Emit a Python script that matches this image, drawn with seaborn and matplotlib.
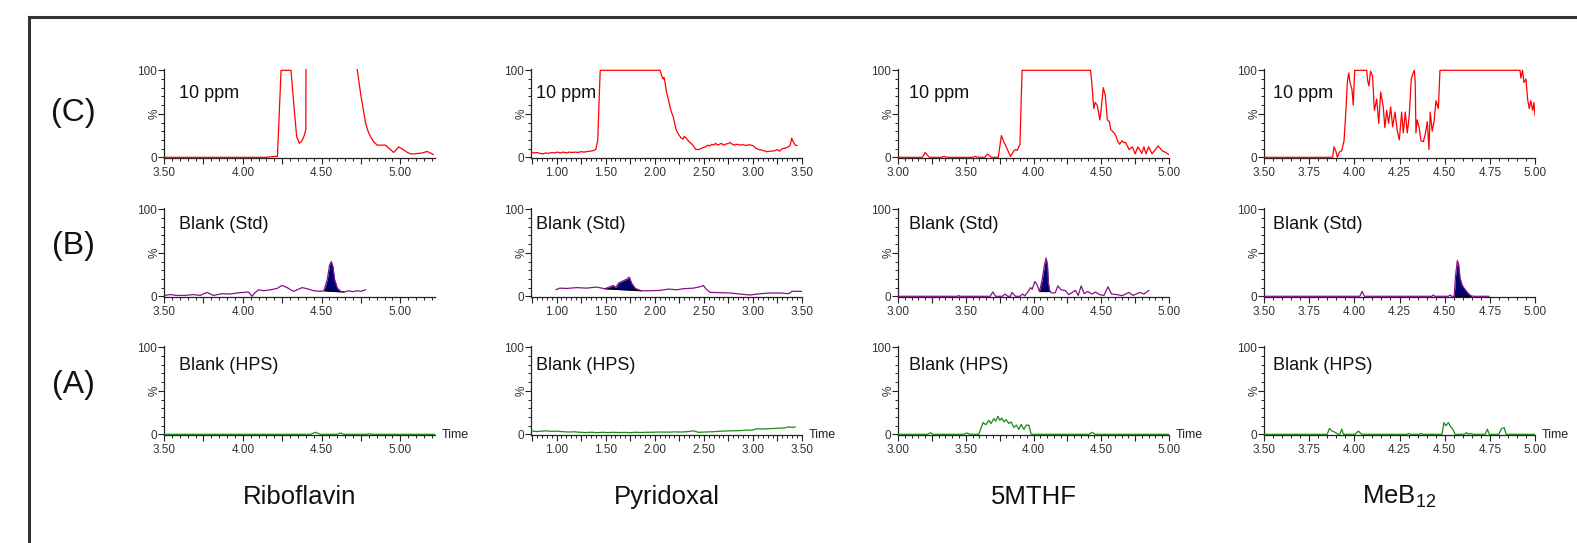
import numpy as np
import pandas as pd
import matplotlib
matplotlib.use("Agg")
import matplotlib.pyplot as plt
import seaborn as sns
from matplotlib.lines import Line2D
from matplotlib.ticker import MultipleLocator, FixedLocator, FuncFormatter

# ---------------- data ----------------
compounds = ["Riboflavin", "Pyridoxal", "5MTHF", "MeB$_{12}$"]
row_labels = ["(C)", "(B)", "(A)"]
row_texts = ["10 ppm", "Blank (Std)", "Blank (HPS)"]
x_limits = [(3.50, 5.22), (0.74, 3.50), (3.00, 5.00), (3.50, 5.00)]
label_steps = [0.5, 0.5, 0.5, 0.25]

# Row C : 10 ppm (red)
c1_t = [3.50, 4.15, 4.20, 4.22, 4.243, 4.306, 4.327, 4.342, 4.359, 4.376, 4.39, 4.40, 4.402,
        4.55, 4.70, 4.727, 4.748, 4.765, 4.78, 4.795, 4.81, 4.83, 4.853, 4.88, 4.906, 4.93,
        4.958, 4.975, 4.99, 5.02, 5.05, 5.074, 5.116, 5.14, 5.17, 5.19, 5.21]
c1_y = [0, 0, 1, 1, 100, 100, 54, 24, 16, 19, 25, 32, 140,
        140, 140, 100, 73, 55, 39, 30, 24, 18, 14, 14, 14, 10,
        5.6, 9, 12, 8.6, 5, 3.7, 4.5, 5, 6.7, 5, 3]

c2_t = [0.745, 0.77, 0.80, 0.83, 0.86, 0.89, 0.92, 0.95, 0.98, 1.01, 1.04, 1.07, 1.10, 1.13,
        1.16, 1.19, 1.22, 1.25, 1.28, 1.31, 1.34, 1.37, 1.40, 1.42, 1.435, 1.445, 2.055,
        2.07, 2.085, 2.095, 2.105, 2.12, 2.14, 2.155, 2.17, 2.19, 2.205, 2.22, 2.245, 2.27,
        2.29, 2.30, 2.32, 2.35, 2.38, 2.40, 2.42, 2.45, 2.47, 2.49, 2.52, 2.54, 2.56, 2.58,
        2.60, 2.62, 2.64, 2.66, 2.68, 2.70, 2.72, 2.75, 2.77, 2.79, 2.81, 2.84, 2.87, 2.90,
        2.93, 2.96, 3.00, 3.03, 3.06, 3.10, 3.14, 3.18, 3.22, 3.25, 3.27, 3.30, 3.33, 3.36,
        3.38, 3.395, 3.41, 3.43, 3.45]
c2_y = [6, 5, 5.5, 4.5, 4, 5, 4.5, 5.5, 5, 6, 5, 6, 5, 6,
        5.5, 6, 5.5, 6.5, 6, 6.5, 7, 7.5, 9, 20, 70, 100, 100,
        94, 90, 92, 86, 75, 66, 58, 52, 46, 38, 31, 26, 22,
        21, 24, 22, 18, 15, 12, 9, 9, 10, 11, 12, 14, 13, 15,
        14, 16, 14, 15, 16, 14, 15, 16, 17, 15, 14, 15, 14, 14.5,
        13.5, 14.5, 13.5, 10.5, 9, 8, 6.5, 7, 7.5, 9, 7, 10, 10.5, 12,
        14, 22, 18, 14, 13.5]

c3_t = [3.00, 3.18, 3.20, 3.23, 3.32, 3.34, 3.36, 3.55, 3.57, 3.59, 3.64, 3.66, 3.69, 3.74,
        3.763, 3.78, 3.79, 3.81, 3.83, 3.855, 3.87, 3.88, 3.90, 3.91, 3.916, 4.421, 4.43,
        4.445, 4.455, 4.47, 4.49, 4.50, 4.515, 4.53, 4.545, 4.56, 4.57, 4.595, 4.61, 4.62,
        4.635, 4.655, 4.665, 4.68, 4.705, 4.73, 4.75, 4.77, 4.80, 4.815, 4.83, 4.85, 4.875,
        4.90, 4.92, 4.95, 4.975, 5.00]
c3_y = [0, 0, 5.6, 0, 0, 1, 0, 0, 1, 0, 0, 3.7, 0, 0,
        25, 18, 15, 8, 1, 7.5, 9, 8, 15, 70, 100, 100, 86,
        56, 63, 60, 43, 56, 80, 71, 43, 41, 32, 28, 24, 19,
        15, 19, 17, 17, 9, 12, 4, 12, 4.5, 12, 4, 12, 4,
        9, 13, 7.5, 5.6, 3]

c4_t = [3.50, 3.880, 3.887, 3.898, 3.906, 3.917, 3.930, 3.943, 3.954, 3.961, 3.969, 3.976,
        3.987, 3.994, 4.002, 4.068, 4.074, 4.081, 4.090, 4.101, 4.111, 4.124, 4.135, 4.146,
        4.160, 4.169, 4.179, 4.190, 4.201, 4.212, 4.225, 4.238, 4.249, 4.262, 4.271, 4.282,
        4.293, 4.304, 4.315, 4.326, 4.332, 4.337, 4.341, 4.348, 4.359, 4.369, 4.382, 4.394,
        4.404, 4.413, 4.420, 4.431, 4.441, 4.452, 4.465, 4.474, 4.917, 4.922, 4.931, 4.939,
        4.950, 4.959, 4.968, 4.977, 4.987, 4.994, 5.00]
c4_y = [0, 0, 12, 7, 0, 6, 7.5, 19, 56, 86, 97, 86,
        78, 60, 100, 100, 88, 82, 99, 93, 54, 67, 39, 75,
        58, 34, 54, 39, 58, 35, 52, 30, 20, 52, 28, 52,
        28, 48, 90, 97, 100, 86, 28, 43, 34, 19, 18, 28,
        41, 9, 52, 30, 41, 65, 56, 100, 100, 91, 100, 86,
        90, 67, 56, 65, 54, 63, 48]

# Row B : Blank (Std) (purple)
b1_t = [3.506, 3.538, 3.581, 3.634, 3.687, 3.729, 3.772, 3.814, 3.867, 3.920, 3.962, 4.005,
        4.037, 4.058, 4.079, 4.101, 4.132, 4.175, 4.217, 4.249, 4.281, 4.323, 4.345, 4.377,
        4.408, 4.451, 4.493, 4.515, 4.536, 4.551, 4.562, 4.572, 4.583, 4.600, 4.621, 4.642,
        4.674, 4.695, 4.727, 4.748, 4.780]
b1_y = [1, 2, 1, 1, 2, 1, 4.5, 1, 3, 2.6, 3.8, 4.5,
        5, 0, 4.5, 7.5, 6.4, 7.5, 9, 12.5, 10, 5.7, 7.5, 10,
        8.7, 6.4, 5.7, 6.4, 19, 36, 40, 34, 19, 9.4, 5.7, 5,
        6.4, 5.3, 6.4, 5.7, 7.5]

b2_t = [0.993, 1.034, 1.102, 1.204, 1.306, 1.408, 1.476, 1.493, 1.544, 1.578, 1.605, 1.629,
        1.663, 1.714, 1.741, 1.765, 1.799, 1.833, 1.867, 1.952, 2.054, 2.139, 2.224, 2.292,
        2.394, 2.462, 2.496, 2.523, 2.564, 2.666, 2.768, 2.870, 2.972, 3.075, 3.177, 3.279,
        3.364, 3.398, 3.500]
b2_y = [7.5, 9.4, 9, 10, 9.4, 10.6, 9, 8.7, 11, 12.5, 10, 15,
        17, 19.6, 22, 15, 9.4, 7.5, 6.4, 6.4, 6.8, 8.3, 7.5, 8.7,
        9.4, 11, 12.5, 8.3, 4.5, 4.2, 3.8, 2.6, 1.5, 3, 3.8, 3.8,
        3, 5.7, 5.7]

b3_t = [3.00, 3.44, 3.448, 3.455, 3.68, 3.70, 3.72, 3.77, 3.79, 3.81, 3.83, 3.84, 3.867,
        3.90, 3.92, 3.935, 3.953, 3.978, 3.99, 4.01, 4.027, 4.044, 4.064, 4.081, 4.093,
        4.103, 4.11, 4.12, 4.136, 4.16, 4.18, 4.204, 4.236, 4.26, 4.286, 4.31, 4.33, 4.352,
        4.374, 4.40, 4.43, 4.458, 4.488, 4.52, 4.55, 4.576, 4.618, 4.655, 4.705, 4.734,
        4.786, 4.815, 4.852]
b3_y = [0, 0, 1, 0, 0, 5, 0, 0, 2.6, 0, 0, 4.5, 0,
        0, 2.6, 0.5, 3.8, 10, 8, 17, 13, 5.6, 19, 36, 44,
        36, 15, 5.6, 3.8, 4, 12, 7.5, 6.4, 1.9, 4.5, 6.8, 1, 12,
        3, 5.6, 2.6, 4.9, 1.9, 1, 11, 2.6, 1.9, 0.75, 4.5, 1,
        4.5, 2.6, 6.8]

b4_t = [3.50, 4.03, 4.043, 4.056, 4.43, 4.437, 4.445, 4.52, 4.53, 4.54, 4.553, 4.56, 4.570,
        4.577, 4.585, 4.596, 4.607, 4.621, 4.632, 4.644, 4.66, 4.747]
b4_y = [0, 0, 5.7, 0, 0, 1.5, 0, 0, 1.5, 0, 0, 23, 41,
        37, 21, 13, 9.4, 5.7, 3, 0.75, 0, 0]

# integrated peak windows (start, end, baseline start, baseline end)
peak_windows = [(4.515, 4.642, 6.4, 5.0), (1.493, 1.867, 8.7, 6.4),
                (4.044, 4.120, 5.6, 5.6), (4.553, 4.644, 0.0, 0.0)]

# Row A : Blank (HPS) (green)
a1_t = [3.50, 4.43, 4.462, 4.49, 4.60, 4.621, 4.64, 4.78, 4.80, 4.82, 5.22]
a1_y = [0, 0, 2.3, 0, 0, 1.5, 0, 0, 0.6, 0, 0]

a2_t = [0.744, 0.80, 0.85, 0.898, 0.95, 1.00, 1.068, 1.12, 1.18, 1.238, 1.30, 1.35, 1.408,
        1.47, 1.52, 1.578, 1.64, 1.70, 1.748, 1.80, 1.86, 1.918, 1.98, 2.04, 2.088, 2.15,
        2.20, 2.258, 2.33, 2.394, 2.445, 2.50, 2.55, 2.598, 2.66, 2.72, 2.768, 2.82, 2.88,
        2.938, 2.99, 3.04, 3.10, 3.143, 3.20, 3.25, 3.279, 3.33, 3.364, 3.40, 3.432]
a2_y = [3.8, 3.2, 3.6, 4, 3.3, 3.6, 3, 2.6, 2.9, 2.3, 2.0, 2.4, 1.9,
        2.3, 2.0, 2.3, 2.0, 2.2, 1.9, 2.3, 2.1, 2.3, 2.4, 2.6, 2.6, 2.5,
        2.8, 2.6, 3.0, 4, 2.3, 2.6, 2.8, 3, 3.5, 3.8, 4, 4.1, 4.3,
        4.9, 4.6, 6.4, 6.0, 6.4, 6.6, 7.0, 7.1, 7.5, 8.6, 7.9, 8.6]

a3_t = [3.00, 3.22, 3.239, 3.26, 3.49, 3.51, 3.53, 3.596, 3.628, 3.648, 3.67, 3.687, 3.707,
        3.722, 3.737, 3.752, 3.766, 3.781, 3.798, 3.818, 3.835, 3.855, 3.874, 3.892, 3.909,
        3.929, 3.946, 3.966, 3.983, 4.41, 4.434, 4.455, 5.00]
a3_y = [0, 0, 1.9, 0, 0, 1.5, 0, 0, 13.5, 11, 16, 12.4, 18,
        15, 20.7, 16, 18.8, 14.3, 17, 12.4, 14.3, 7.9, 10.5, 5.6, 11.3,
        5.6, 10.5, 10.5, 0, 0, 2.3, 0, 0]

a4_t = [3.50, 3.85, 3.862, 3.875, 3.893, 3.91, 3.92, 3.93, 3.94, 4.005, 4.022, 4.04, 4.29,
        4.30, 4.31, 4.36, 4.37, 4.38, 4.485, 4.496, 4.507, 4.52, 4.533, 4.548, 4.557, 4.61,
        4.621, 4.632, 4.644, 4.655, 4.725, 4.736, 4.747, 4.80, 4.815, 4.83, 4.84, 5.00]
a4_y = [0, 0, 6.8, 4, 2.3, 0, 0, 6, 0, 0, 3.8, 0, 0,
        1, 0, 0, 1, 0, 0, 13.5, 9.8, 13.5, 8.6, 4.9, 0, 0,
        1.9, 0, 1, 0, 0, 6, 0, 0, 6.8, 7.5, 0, 0]

rows = [
    [(c1_t, c1_y), (c2_t, c2_y), (c3_t, c3_y), (c4_t, c4_y)],
    [(b1_t, b1_y), (b2_t, b2_y), (b3_t, b3_y), (b4_t, b4_y)],
    [(a1_t, a1_y), (a2_t, a2_y), (a3_t, a3_y), (a4_t, a4_y)],
]
row_colors = ["#ff0000", "#86128a", "#1a8c1a"]
fill_color = "#00006e"

# ---------------- style ----------------
sns.set_theme(style="ticks")
plt.rcParams["font.family"] = ["Liberation Sans", "DejaVu Sans"]
plt.rcParams["mathtext.default"] = "regular"

W, H = 1577, 543
fig = plt.figure(figsize=(W / 100, H / 100), dpi=100)
fig.patch.set_facecolor("white")

col_left = [164, 531, 898, 1264]
ax_w = 271
row_top = [69, 208, 346]
ax_h = 89
text_dx = [15, 5.5, 11.5, 9]          # pixel offset of in-panel caption
text_y = [0.73, 0.82, 0.78]


def make_fmt(step):
    def f(v, pos):
        k = v / step
        if abs(k - round(k)) < 1e-6:
            return f"{v:.2f}"
        return ""
    return f


def yfmt(v, pos):
    if abs(v - 100) < 1e-6:
        return "100"
    if abs(v) < 1e-6:
        return "0"
    return ""


for r in range(3):
    for c in range(4):
        ax = fig.add_axes([col_left[c] / W, 1 - (row_top[r] + ax_h) / H, ax_w / W, ax_h / H])
        ax.set_facecolor("none")
        t, y = rows[r][c]
        df = pd.DataFrame({"t": t, "y": y})
        sns.lineplot(data=df, x="t", y="y", ax=ax, color=row_colors[r], linewidth=0.9,
                     estimator=None, sort=False, zorder=3)
        if r == 1:
            s, e, b0, b1 = peak_windows[c]
            ta = np.asarray(t)
            ya = np.asarray(y, dtype=float)
            m = (ta >= s - 1e-9) & (ta <= e + 1e-9)
            base = b0 + (b1 - b0) * (ta[m] - s) / (e - s)
            ax.fill_between(ta[m], ya[m], base, color=fill_color, linewidth=0, zorder=2.8)
            ax.plot([s, e], [b0, b1], color="black", linewidth=0.9, zorder=2.9)

        ax.set_xlim(*x_limits[c])
        ax.set_ylim(-0.8, 101.5)
        ax.set_xlabel("")
        ax.set_ylabel("")
        for sp in ["top", "right"]:
            ax.spines[sp].set_visible(False)
        for sp in ["left", "bottom"]:
            ax.spines[sp].set_color("#222222")
            ax.spines[sp].set_linewidth(0.9)

        ax.xaxis.set_major_locator(MultipleLocator(0.25))
        ax.xaxis.set_minor_locator(MultipleLocator(0.05))
        ax.xaxis.set_major_formatter(FuncFormatter(make_fmt(label_steps[c])))
        ax.yaxis.set_major_locator(FixedLocator([0, 50, 100]))
        ax.yaxis.set_minor_locator(MultipleLocator(10))
        ax.yaxis.set_major_formatter(FuncFormatter(yfmt))
        ax.tick_params(which="major", direction="out", length=4.0, width=0.8,
                       color="#222222", labelsize=8.5, labelcolor="#333333", pad=1.2)
        ax.tick_params(axis="x", which="major", pad=2.6)
        ax.tick_params(which="minor", direction="out", length=2.0, width=0.7, color="#222222")
        ax.text(-0.035, 0.5, "%", rotation=90, transform=ax.transAxes, ha="center",
                va="center", fontsize=8.5, color="#333333")
        ax.annotate(row_texts[r], xy=(0, text_y[r]), xycoords="axes fraction",
                    xytext=(text_dx[c] * 0.72, 0), textcoords="offset points",
                    ha="left", va="center", fontsize=13, color="#111111")
        if r == 2:
            ax.annotate("Time", xy=(1, 0), xycoords="axes fraction", xytext=(5, 0),
                        textcoords="offset points", ha="left", va="center",
                        fontsize=9, color="#222222")

# row labels
for lab, yc in zip(row_labels, [113, 246, 385]):
    fig.text(73 / W, 1 - yc / H, lab, ha="center", va="center", fontsize=23, color="#111111")

# compound names
for c, name in enumerate(compounds):
    cx = col_left[c] + ax_w / 2
    fig.text(cx / W, 1 - 504 / H, name, ha="center", va="baseline", fontsize=18.5,
             color="#111111")

# outer frame (left and top edges visible)
fig.add_artist(Line2D([29 / W, 29 / W], [0, 1 - 16.5 / H], transform=fig.transFigure,
                      color="#333333", linewidth=2.2, solid_capstyle="projecting"))
fig.add_artist(Line2D([29 / W, 1.0], [1 - 16.5 / H, 1 - 16.5 / H], transform=fig.transFigure,
                      color="#333333", linewidth=2.2, solid_capstyle="projecting"))

fig.savefig("out.png", dpi=100)
